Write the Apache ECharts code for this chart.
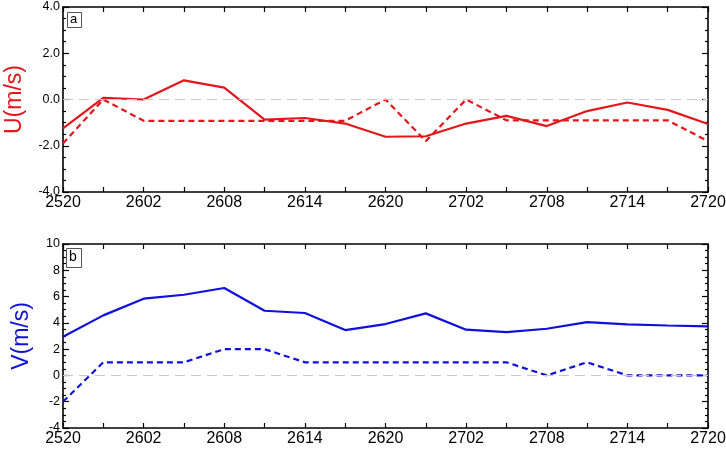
<!DOCTYPE html>
<html><head><meta charset="utf-8">
<script src="https://cdn.jsdelivr.net/npm/echarts@6/dist/echarts.min.js"></script>
<style>html,body{margin:0;padding:0;background:#fff}#c{width:726px;height:449px}</style>
</head><body><div id="c"></div>
<script>
// 17 time steps, 3-hourly
const times = ['2520','2523','2602','2605','2608','2611','2614','2617','2620','2623','2702','2705','2708','2711','2714','2717','2720'];
const uSolid = [-1.25, 0.07, 0.0, 0.83, 0.51, -0.87, -0.8, -1.04, -1.61, -1.59, -1.04, -0.71, -1.15, -0.5, -0.13, -0.45, -1.06];
const uDashed = [-1.9, 0.0, -0.92, -0.92, -0.92, -0.92, -0.92, -0.92, 0.0, -1.8, 0.0, -0.9, -0.9, -0.9, -0.9, -0.9, -1.8];
const vSolid = [2.94, 4.57, 5.84, 6.14, 6.65, 4.92, 4.75, 3.45, 3.91, 4.72, 3.48, 3.3, 3.55, 4.06, 3.88, 3.8, 3.73];
const vDashed = [-2, 1, 1, 1, 2, 2, 1, 1, 1, 1, 1, 1, 0, 1, 0, 0, 0];

const RED = '#e3161c', BLUE = '#1010dc';
const chart = echarts.init(document.getElementById('c'));
const axisLine = {show: true, onZero: false, lineStyle: {color: '#000', width: 1.6}};
function xAxes(gi) {
  return [{
    type: 'category', gridIndex: gi, data: times, boundaryGap: false, position: 'bottom',
    axisLine, axisTick: {show: true, inside: true, interval: 0, length: 5, lineStyle: {color: '#000', width: 1.2}},
    axisLabel: {interval: 1, color: '#000', fontSize: 16, fontFamily: 'Liberation Sans', margin: 3},
    splitLine: {show: false}
  }, {
    type: 'category', gridIndex: gi, data: times, boundaryGap: false, position: 'top',
    axisLine, axisTick: {show: true, inside: true, interval: 0, length: 5, lineStyle: {color: '#000', width: 1.2}},
    axisLabel: {show: false}, splitLine: {show: false}
  }];
}
function yAxes(gi, min, max, name, color, fmt, gap) {
  const common = {
    type: 'value', gridIndex: gi, min, max, interval: 2, splitNumber: 4,
    axisLine, splitLine: {show: false},
    axisTick: {show: true, inside: true, length: 6, lineStyle: {color: '#000', width: 1.2}},
    minorTick: {show: true, splitNumber: 4, length: 3, lineStyle: {color: '#000', width: 1.2}}
  };
  return [Object.assign({}, common, {
    position: 'left', name, nameLocation: 'middle', nameGap: gap, nameMoveOverlap: false,
    nameTextStyle: {color, fontSize: 23, fontFamily: 'Liberation Sans'},
    axisLabel: {color: '#000', fontSize: 12.5, fontFamily: 'Liberation Sans', margin: 3, formatter: fmt}
  }), Object.assign({}, common, {position: 'right', axisLabel: {show: false}})];
}
const zeroLine = {
  silent: true, symbol: 'none', label: {show: false},
  lineStyle: {color: '#c8c8c8', type: [10, 6], width: 1.2},
  data: [{yAxis: 0}]
};
function line(data, xi, yi, color, dashed) {
  return {
    type: 'line', data, xAxisIndex: xi, yAxisIndex: yi, symbol: 'none', silent: true, z: 3,
    lineStyle: {color, width: 2.2, type: dashed ? [6, 4] : 'solid'}
  };
}
function zero(xi, yi) {
  return {type: 'line', data: [], xAxisIndex: xi, yAxisIndex: yi, z: 1, silent: true, markLine: zeroLine};
}
chart.setOption({
  animation: false,
  grid: [
    {left: 63, right: 18, top: 7, height: 185, containLabel: false, outerBoundsMode: 'none'},
    {left: 63, right: 18, top: 244, height: 184, containLabel: false, outerBoundsMode: 'none'}
  ],
  xAxis: [...xAxes(0), ...xAxes(1)],
  yAxis: [
    ...yAxes(0, -4, 4, 'U(m/s)', RED, v => v.toFixed(1), 37),
    ...yAxes(1, -4, 10, 'V(m/s)', BLUE, v => String(v), 30)
  ],
  graphic: [
    {type: 'rect', left: 67, top: 12, z: 100, shape: {width: 14, height: 15}, style: {fill: '#fff', stroke: '#555', lineWidth: 1}},
    {type: 'text', left: 70, top: 13, z: 101, style: {text: 'a', fontSize: 13, fill: '#000', fontFamily: 'Liberation Sans'}},
    {type: 'rect', left: 66, top: 248, z: 100, shape: {width: 15, height: 19}, style: {fill: '#fff', stroke: '#555', lineWidth: 1}},
    {type: 'text', left: 69, top: 250, z: 101, style: {text: 'b', fontSize: 14, fill: '#000', fontFamily: 'Liberation Sans'}}
  ],
  series: [
    zero(0, 0),
    line(uSolid, 0, 0, RED, false),
    line(uDashed, 0, 0, RED, true),
    zero(2, 2),
    line(vSolid, 2, 2, BLUE, false),
    line(vDashed, 2, 2, BLUE, true)
  ]
});
</script></body></html>
